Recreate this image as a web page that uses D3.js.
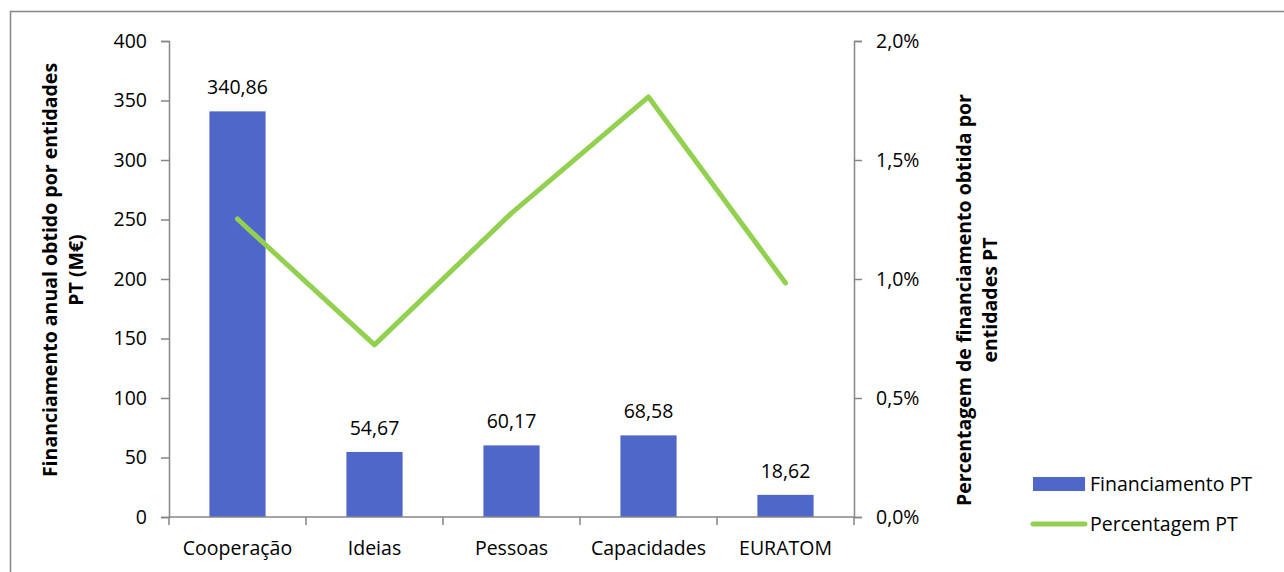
<!DOCTYPE html>
<html>
<head>
<meta charset="utf-8">
<script src="https://cdn.jsdelivr.net/npm/d3@7"></script>
<style>
  body { margin: 0; background: #fff; }
  svg text { font-family: "Open Sans", sans-serif; fill: #000; }
</style>
</head>
<body>
<svg id="chart"></svg>
<script>
const categories = ["Cooperação", "Ideias", "Pessoas", "Capacidades", "EURATOM"];
const financiamento = [340.86, 54.67, 60.17, 68.58, 18.62];
const percentagem = [0.01252, 0.00723, 0.01277, 0.01765, 0.00983];
const leftTicks = [0, 50, 100, 150, 200, 250, 300, 350, 400];
const rightTicks = [0, 0.005, 0.01, 0.015, 0.02];

const width = 1284;
const height = 572;
const margin = { top: 41, left: 169, right: 430, bottom: 55 };
const blue = "#4F67C8";
const green = "#92D050";
const axisColor = "#868686";
const fs = "19.5px";

const svg = d3.select("#chart").attr("width", width).attr("height", height);

// outer border
svg.append("rect")
  .attr("x", 10.5).attr("y", 11.5)
  .attr("width", 1290).attr("height", 600)
  .attr("fill", "none").attr("stroke", axisColor).attr("stroke-width", 1.5);

const x0 = margin.left;
const x1 = width - margin.right;
const yBottom = height - margin.bottom;

const x = d3.scaleBand().domain(categories).range([x0, x1]);
const y = d3.scaleLinear().domain([0, 400]).range([yBottom, margin.top]);
const y2 = d3.scaleLinear().domain([0, 0.02]).range([yBottom, margin.top]);

const fmt = d3.formatLocale({ decimal: ",", thousands: ".", grouping: [3], currency: ["", "€"] });
const pct = fmt.format(".1%");
const num = fmt.format(".2f");

// left axis
const gl = svg.append("g").attr("transform", `translate(${x0},0)`)
  .call(d3.axisLeft(y).tickValues(leftTicks).tickSize(8).tickPadding(14));
// right axis
const gr = svg.append("g").attr("transform", `translate(${x1},0)`)
  .call(d3.axisRight(y2).tickValues(rightTicks).tickFormat(pct).tickSize(8).tickPadding(14));
[gl, gr].forEach(g => {
  g.select(".domain").attr("stroke", axisColor).attr("stroke-width", 1.5);
  g.selectAll(".tick line").attr("stroke", axisColor).attr("stroke-width", 1.5);
  g.selectAll("text").style("font-size", fs).attr("fill", "#000");
});

// bars
const barW = x.bandwidth() * 0.41;
svg.selectAll("rect.bar")
  .data(categories)
  .enter()
  .append("rect")
  .attr("class", "bar")
  .attr("x", (d) => x(d) + (x.bandwidth() - barW) / 2)
  .attr("y", (d, i) => y(financiamento[i]))
  .attr("width", barW)
  .attr("height", (d, i) => yBottom - y(financiamento[i]))
  .attr("fill", blue);

// bar labels
svg.selectAll("text.blabel")
  .data(categories)
  .enter()
  .append("text")
  .attr("class", "blabel")
  .attr("x", (d) => x(d) + x.bandwidth() / 2)
  .attr("y", (d, i) => y(financiamento[i]) - 17)
  .attr("text-anchor", "middle")
  .style("font-size", fs)
  .text((d, i) => num(financiamento[i]));

// x axis
const gx = svg.append("g").attr("transform", `translate(0,${yBottom})`);
gx.append("line").attr("x1", x0).attr("x2", x1).attr("stroke", axisColor).attr("stroke-width", 1.5);
const bounds = categories.map((d) => x(d)).concat([x1]);
gx.selectAll("line.tk")
  .data(bounds)
  .enter()
  .append("line")
  .attr("class", "tk")
  .attr("x1", (d) => d).attr("x2", (d) => d)
  .attr("y1", 0).attr("y2", 8)
  .attr("stroke", axisColor).attr("stroke-width", 1.5);
gx.selectAll("text")
  .data(categories)
  .enter()
  .append("text")
  .attr("x", (d) => x(d) + x.bandwidth() / 2)
  .attr("y", 38)
  .attr("text-anchor", "middle")
  .style("font-size", fs)
  .text((d) => d);

// line
const line = d3.line()
  .x((d, i) => x(categories[i]) + x.bandwidth() / 2)
  .y((d) => y2(d));
svg.append("path")
  .datum(percentagem)
  .attr("d", line)
  .attr("fill", "none")
  .attr("stroke", green)
  .attr("stroke-width", 5)
  .attr("stroke-linecap", "round")
  .attr("stroke-linejoin", "round");

// axis titles
const leftTitle = svg.append("text")
  .attr("transform", "translate(57,270) rotate(-90)")
  .attr("text-anchor", "middle")
  .style("font-size", fs).style("font-weight", "bold");
leftTitle.append("tspan").attr("x", 0).attr("dy", 0).text("Financiamento anual obtido por entidades");
leftTitle.append("tspan").attr("x", 0).attr("dy", 26).text("PT (M€)");

const rightTitle = svg.append("text")
  .attr("transform", "translate(971,300) rotate(-90)")
  .attr("text-anchor", "middle")
  .style("font-size", fs).style("font-weight", "bold");
rightTitle.append("tspan").attr("x", 0).attr("dy", 0).text("Percentagem de financiamento obtida por");
rightTitle.append("tspan").attr("x", 0).attr("dy", 26).text("entidades PT");

// legend
const lg = svg.append("g").attr("transform", "translate(1033,0)");
lg.append("rect").attr("x", 0).attr("y", 477).attr("width", 52).attr("height", 14).attr("fill", blue);
lg.append("text").attr("x", 57).attr("y", 491).style("font-size", fs).text("Financiamento PT");
lg.append("line").attr("x1", 0).attr("x2", 52).attr("y1", 524).attr("y2", 524)
  .attr("stroke", green).attr("stroke-width", 5).attr("stroke-linecap", "round");
lg.append("text").attr("x", 57).attr("y", 531).style("font-size", fs).text("Percentagem PT");
</script>
</body>
</html>
